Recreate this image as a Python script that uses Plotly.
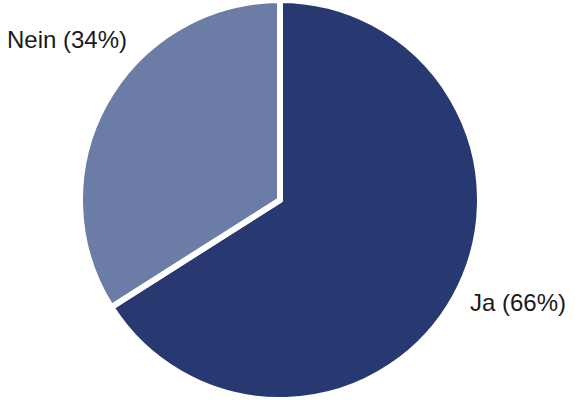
import plotly.graph_objects as go

labels = ["Ja", "Nein"]
values = [66, 34]
colors = ["#283870", "#6b7ca6"]
label_pos = [(0.925, 0.245), (0.12, 0.9)]

fig = go.Figure(go.Pie(
    labels=labels,
    values=values,
    sort=False,
    direction="clockwise",
    rotation=0,
    marker=dict(colors=colors, line=dict(color="white", width=6)),
    textinfo="none",
    hoverinfo="label+percent",
    showlegend=False,
    domain=dict(x=[0, 1], y=[0, 1]),
))

annotations = []
for lab, val, (x, y) in zip(labels, values, label_pos):
    annotations.append(dict(
        x=x, y=y, xref="paper", yref="paper",
        text=f"{lab} ({val}%)", showarrow=False,
        font=dict(family="Liberation Sans, Arial, sans-serif", size=24, color="#1a1a1a"),
        xanchor="center", yanchor="middle",
    ))

fig.update_layout(
    width=575, height=400,
    margin=dict(l=0, r=15, t=0, b=0),
    paper_bgcolor="white", plot_bgcolor="white",
    annotations=annotations,
)

fig.write_html("out.html", config={"displayModeBar": False},
               post_script="document.body.style.margin='0';document.body.style.padding='0';")
